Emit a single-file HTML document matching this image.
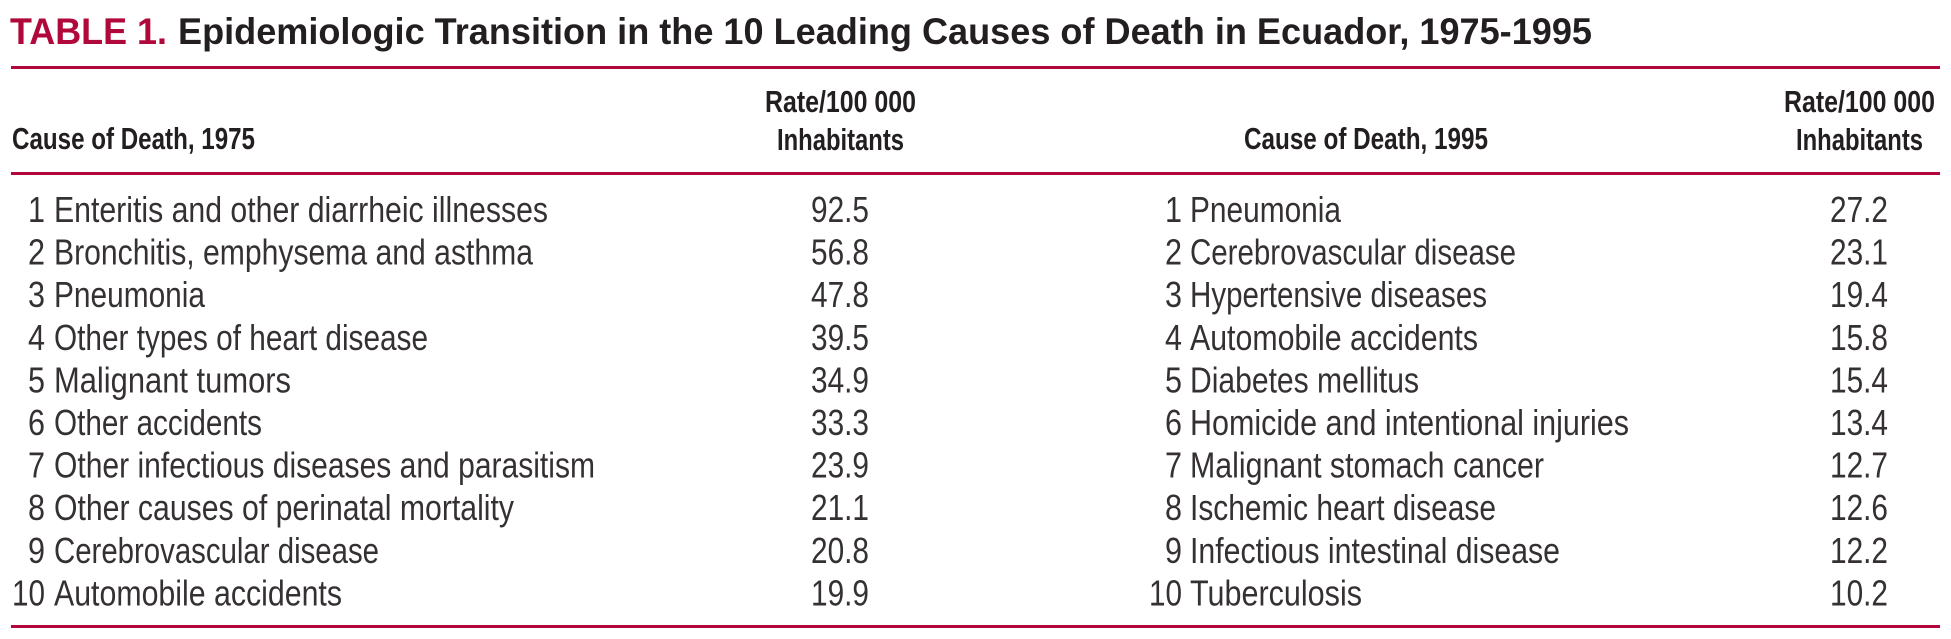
<!DOCTYPE html>
<html lang="en">
<head>
<meta charset="utf-8">
<title>Epidemiologic Transition in Ecuador</title>
<style>
html,body{margin:0;padding:0;background:#fff;width:1951px;height:639px;overflow:hidden}
svg{display:block}
text{font-family:"Liberation Sans",Arial,sans-serif;fill:#231f20}
.t{font-size:37px;font-weight:700}
.h{font-size:30.5px;font-weight:700}
.b{font-size:36px;fill:#353132}
</style>
</head>
<body>
<svg width="1951" height="639" viewBox="0 0 1951 639">
<rect width="1951" height="639" fill="#fff"/>
<text class="t" x="10" y="44" textLength="157" lengthAdjust="spacingAndGlyphs" style="fill:#b0083a">TABLE 1.</text>
<text class="t" x="178" y="44" textLength="1414" lengthAdjust="spacingAndGlyphs">Epidemiologic Transition in the 10 Leading Causes of Death in Ecuador, 1975-1995</text>
<rect x="11" y="66" width="1929" height="3" fill="#b0083a"/>
<rect x="11" y="172" width="1929" height="3" fill="#b0083a"/>
<rect x="11" y="625" width="1929" height="3" fill="#b0083a"/>

<text class="h" x="12" y="149" textLength="243" lengthAdjust="spacingAndGlyphs">Cause of Death, 1975</text>
<text class="h" x="765" y="112" textLength="151" lengthAdjust="spacingAndGlyphs">Rate/100 000</text>
<text class="h" x="777" y="150" textLength="127" lengthAdjust="spacingAndGlyphs">Inhabitants</text>
<text class="h" x="1244" y="149" textLength="244" lengthAdjust="spacingAndGlyphs">Cause of Death, 1995</text>
<text class="h" x="1784" y="112" textLength="151" lengthAdjust="spacingAndGlyphs">Rate/100 000</text>
<text class="h" x="1796" y="150" textLength="127" lengthAdjust="spacingAndGlyphs">Inhabitants</text>

<g>
<text class="b" x="28" y="222" textLength="17" lengthAdjust="spacingAndGlyphs">1</text>
<text class="b" x="54" y="222" textLength="494" lengthAdjust="spacingAndGlyphs">Enteritis and other diarrheic illnesses</text>
<text class="b" x="811" y="222" textLength="58" lengthAdjust="spacingAndGlyphs">92.5</text>
<text class="b" x="28" y="264.6" textLength="17" lengthAdjust="spacingAndGlyphs">2</text>
<text class="b" x="54" y="264.6" textLength="479" lengthAdjust="spacingAndGlyphs">Bronchitis, emphysema and asthma</text>
<text class="b" x="811" y="264.6" textLength="58" lengthAdjust="spacingAndGlyphs">56.8</text>
<text class="b" x="28" y="307.2" textLength="17" lengthAdjust="spacingAndGlyphs">3</text>
<text class="b" x="54" y="307.2" textLength="151" lengthAdjust="spacingAndGlyphs">Pneumonia</text>
<text class="b" x="811" y="307.2" textLength="58" lengthAdjust="spacingAndGlyphs">47.8</text>
<text class="b" x="28" y="349.8" textLength="17" lengthAdjust="spacingAndGlyphs">4</text>
<text class="b" x="54" y="349.8" textLength="374" lengthAdjust="spacingAndGlyphs">Other types of heart disease</text>
<text class="b" x="811" y="349.8" textLength="58" lengthAdjust="spacingAndGlyphs">39.5</text>
<text class="b" x="28" y="392.4" textLength="17" lengthAdjust="spacingAndGlyphs">5</text>
<text class="b" x="54" y="392.4" textLength="237" lengthAdjust="spacingAndGlyphs">Malignant tumors</text>
<text class="b" x="811" y="392.4" textLength="58" lengthAdjust="spacingAndGlyphs">34.9</text>
<text class="b" x="28" y="435" textLength="17" lengthAdjust="spacingAndGlyphs">6</text>
<text class="b" x="54" y="435" textLength="208" lengthAdjust="spacingAndGlyphs">Other accidents</text>
<text class="b" x="811" y="435" textLength="58" lengthAdjust="spacingAndGlyphs">33.3</text>
<text class="b" x="28" y="477.6" textLength="17" lengthAdjust="spacingAndGlyphs">7</text>
<text class="b" x="54" y="477.6" textLength="541" lengthAdjust="spacingAndGlyphs">Other infectious diseases and parasitism</text>
<text class="b" x="811" y="477.6" textLength="58" lengthAdjust="spacingAndGlyphs">23.9</text>
<text class="b" x="28" y="520.2" textLength="17" lengthAdjust="spacingAndGlyphs">8</text>
<text class="b" x="54" y="520.2" textLength="460" lengthAdjust="spacingAndGlyphs">Other causes of perinatal mortality</text>
<text class="b" x="811" y="520.2" textLength="58" lengthAdjust="spacingAndGlyphs">21.1</text>
<text class="b" x="28" y="562.8" textLength="17" lengthAdjust="spacingAndGlyphs">9</text>
<text class="b" x="54" y="562.8" textLength="325" lengthAdjust="spacingAndGlyphs">Cerebrovascular disease</text>
<text class="b" x="811" y="562.8" textLength="58" lengthAdjust="spacingAndGlyphs">20.8</text>
<text class="b" x="12" y="605.4" textLength="33" lengthAdjust="spacingAndGlyphs">10</text>
<text class="b" x="54" y="605.4" textLength="288" lengthAdjust="spacingAndGlyphs">Automobile accidents</text>
<text class="b" x="811" y="605.4" textLength="58" lengthAdjust="spacingAndGlyphs">19.9</text>
</g>

<g>
<text class="b" x="1165" y="222" textLength="17" lengthAdjust="spacingAndGlyphs">1</text>
<text class="b" x="1190" y="222" textLength="151" lengthAdjust="spacingAndGlyphs">Pneumonia</text>
<text class="b" x="1830" y="222" textLength="58" lengthAdjust="spacingAndGlyphs">27.2</text>
<text class="b" x="1165" y="264.6" textLength="17" lengthAdjust="spacingAndGlyphs">2</text>
<text class="b" x="1190" y="264.6" textLength="326" lengthAdjust="spacingAndGlyphs">Cerebrovascular disease</text>
<text class="b" x="1830" y="264.6" textLength="58" lengthAdjust="spacingAndGlyphs">23.1</text>
<text class="b" x="1165" y="307.2" textLength="17" lengthAdjust="spacingAndGlyphs">3</text>
<text class="b" x="1190" y="307.2" textLength="297" lengthAdjust="spacingAndGlyphs">Hypertensive diseases</text>
<text class="b" x="1830" y="307.2" textLength="58" lengthAdjust="spacingAndGlyphs">19.4</text>
<text class="b" x="1165" y="349.8" textLength="17" lengthAdjust="spacingAndGlyphs">4</text>
<text class="b" x="1190" y="349.8" textLength="288" lengthAdjust="spacingAndGlyphs">Automobile accidents</text>
<text class="b" x="1830" y="349.8" textLength="58" lengthAdjust="spacingAndGlyphs">15.8</text>
<text class="b" x="1165" y="392.4" textLength="17" lengthAdjust="spacingAndGlyphs">5</text>
<text class="b" x="1190" y="392.4" textLength="229" lengthAdjust="spacingAndGlyphs">Diabetes mellitus</text>
<text class="b" x="1830" y="392.4" textLength="58" lengthAdjust="spacingAndGlyphs">15.4</text>
<text class="b" x="1165" y="435" textLength="17" lengthAdjust="spacingAndGlyphs">6</text>
<text class="b" x="1190" y="435" textLength="439" lengthAdjust="spacingAndGlyphs">Homicide and intentional injuries</text>
<text class="b" x="1830" y="435" textLength="58" lengthAdjust="spacingAndGlyphs">13.4</text>
<text class="b" x="1165" y="477.6" textLength="17" lengthAdjust="spacingAndGlyphs">7</text>
<text class="b" x="1190" y="477.6" textLength="354" lengthAdjust="spacingAndGlyphs">Malignant stomach cancer</text>
<text class="b" x="1830" y="477.6" textLength="58" lengthAdjust="spacingAndGlyphs">12.7</text>
<text class="b" x="1165" y="520.2" textLength="17" lengthAdjust="spacingAndGlyphs">8</text>
<text class="b" x="1190" y="520.2" textLength="306" lengthAdjust="spacingAndGlyphs">Ischemic heart disease</text>
<text class="b" x="1830" y="520.2" textLength="58" lengthAdjust="spacingAndGlyphs">12.6</text>
<text class="b" x="1165" y="562.8" textLength="17" lengthAdjust="spacingAndGlyphs">9</text>
<text class="b" x="1190" y="562.8" textLength="370" lengthAdjust="spacingAndGlyphs">Infectious intestinal disease</text>
<text class="b" x="1830" y="562.8" textLength="58" lengthAdjust="spacingAndGlyphs">12.2</text>
<text class="b" x="1149" y="605.4" textLength="33" lengthAdjust="spacingAndGlyphs">10</text>
<text class="b" x="1190" y="605.4" textLength="172" lengthAdjust="spacingAndGlyphs">Tuberculosis</text>
<text class="b" x="1830" y="605.4" textLength="58" lengthAdjust="spacingAndGlyphs">10.2</text>
</g>
</svg>
</body>
</html>
